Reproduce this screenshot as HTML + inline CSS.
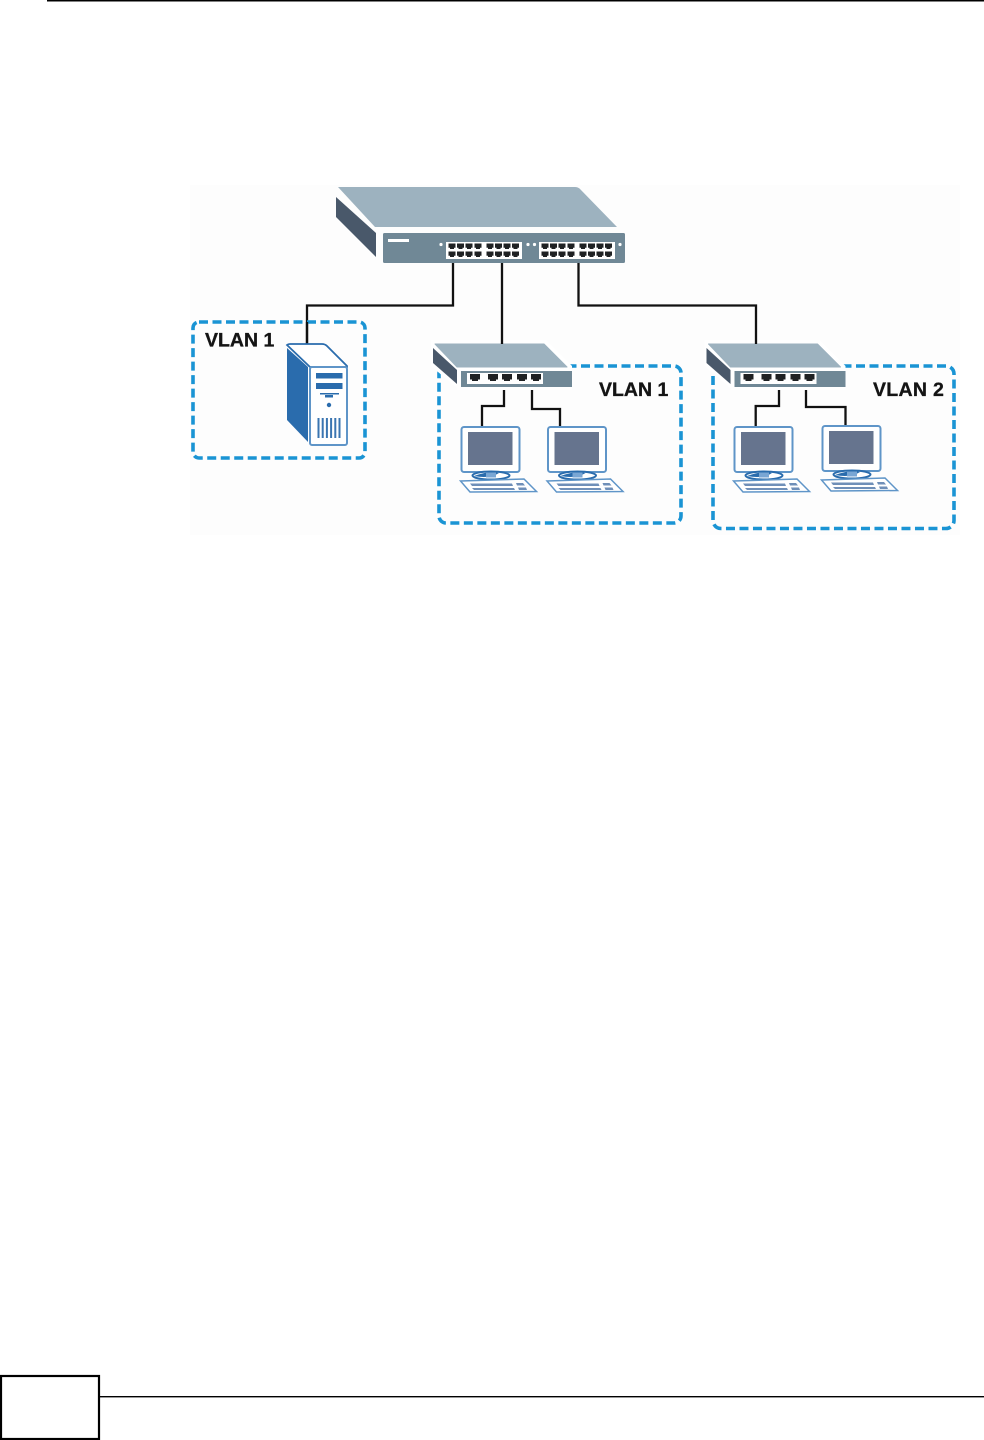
<!DOCTYPE html>
<html>
<head>
<meta charset="utf-8">
<style>
html,body{margin:0;padding:0;background:#fff;width:984px;height:1440px;overflow:hidden}
svg{display:block}
text{font-family:"Liberation Sans",sans-serif;font-weight:bold;font-size:19.5px;fill:#141414;stroke:#141414;stroke-width:.35px}
</style>
</head>
<body>
<svg width="984" height="1440" viewBox="0 0 984 1440" xmlns="http://www.w3.org/2000/svg">
<defs>
  <g id="port"><path d="M-5 -4h10v5.500h-2v1.500h-6v-1.500h-2z" fill="#1f2123"/></g>
  <g id="bigport"><path d="M-3.500 -3h7v4.200h-1.500v1.300h-4v-1.300h-1.500z" fill="#1f2123"/></g>
  <g id="block">
    <rect x="0" y="0" width="76" height="17" fill="#fff"/>
    <use href="#bigport" x="6" y="4.500"/><use href="#bigport" x="14.500" y="4.500"/><use href="#bigport" x="23" y="4.500"/><use href="#bigport" x="32" y="4.500"/>
    <use href="#bigport" x="44" y="4.500"/><use href="#bigport" x="52.500" y="4.500"/><use href="#bigport" x="61" y="4.500"/><use href="#bigport" x="69.500" y="4.500"/>
    <use href="#bigport" x="6" y="12.500"/><use href="#bigport" x="14.500" y="12.500"/><use href="#bigport" x="23" y="12.500"/><use href="#bigport" x="32" y="12.500"/>
    <use href="#bigport" x="44" y="12.500"/><use href="#bigport" x="52.500" y="12.500"/><use href="#bigport" x="61" y="12.500"/><use href="#bigport" x="69.500" y="12.500"/>
  </g>
  <g id="sw">
    <path d="M431 340H546L572 366V390H457V388L431 366Z" fill="#fff"/>
    <path d="M435 344H544L567 367H457Z" fill="#9db2bf" stroke="#9db2bf" stroke-width="1" stroke-linejoin="round"/>
    <path d="M433 348L457 370V384L433 363Z" fill="#49586a"/>
    <rect x="461" y="371" width="111" height="16" fill="#708896"/>
    <rect x="467" y="373" width="76" height="11" fill="#fff"/>
    <use href="#port" x="475" y="378"/><use href="#port" x="493" y="378"/><use href="#port" x="507" y="378"/><use href="#port" x="522" y="378"/><use href="#port" x="536" y="378"/>
  </g>
  <g id="pc">
    <rect x="461.500" y="427" width="58" height="45" rx="2.500" fill="#fff" stroke="#5f95c8" stroke-width="2"/>
    <rect x="468" y="432" width="44.500" height="33" fill="#66748e"/>
    <ellipse cx="491" cy="475.500" rx="18.500" ry="4" fill="#fff" stroke="#2a6cad" stroke-width="2"/>
    <path d="M474 476Q491 470 499 473Q490 479 474 476Z" fill="#2a6cad"/>
    <rect x="486" y="472.500" width="10" height="5" fill="#79a6d4"/>
    <path d="M460.500 481L524 479L536.500 491.500L470 492Z" fill="#fff" stroke="#5f95c8" stroke-width="1.500"/>
    <path d="M470 483.500H512L513 486H472Z M472 488H514L515 490H474Z M516 483H523L525 485.500H517Z M518 487.500H526L527 490H519Z" fill="#6f8fb8"/>
  </g>
</defs>

<rect x="47" y="0" width="937" height="1.500" fill="#000"/>
<rect x="190" y="185" width="770" height="350" fill="#fdfdfd"/>

<!-- connectors -->
<path d="M453 263V305.500H307V346" fill="none" stroke="#111" stroke-width="2.300"/>
<path d="M502 263V344" fill="none" stroke="#111" stroke-width="2.300"/>
<path d="M578.500 263V305.500H756V344" fill="none" stroke="#111" stroke-width="2.300"/>

<!-- main switch -->
<path d="M338 187H575Q578 187 580 189L617 227H375Z" fill="#9db2bf"/>
<path d="M336 197L376 233V257L336 217Z" fill="#49586a"/>
<rect x="383" y="233" width="242" height="30" rx="1.500" fill="#708896"/>
<rect x="388" y="239" width="21" height="3" fill="#fff"/>
<use href="#block" x="446" y="242"/>
<use href="#block" x="539" y="242"/>
<circle cx="441" cy="244.500" r="1.600" fill="#fff"/>
<circle cx="528" cy="244.500" r="1.600" fill="#fff"/>
<circle cx="534.500" cy="244.500" r="1.600" fill="#fff"/>
<circle cx="620" cy="244.500" r="1.600" fill="#fff"/>

<!-- dashed groups -->
<g fill="none" stroke="#1a94d4" stroke-width="3.600" stroke-dasharray="9 4.500">
  <rect x="193" y="322" width="172" height="136" rx="6"/>
  <rect x="439" y="366" width="242" height="157" rx="7"/>
  <rect x="713" y="366" width="241" height="162.500" rx="8"/>
</g>
<path d="M307 322V346" stroke="#111" stroke-width="2.300" fill="none"/>

<!-- server -->
<path d="M287 345Q288 344 290 344H322Q325 344 327 346L347 366V367H310Z" fill="#fff" stroke="#2a6cad" stroke-width="1.800"/>
<path d="M287 348L308 367V442L287 420Z" fill="#2a6cad"/>
<rect x="310" y="367" width="37" height="78" rx="2" fill="#fff" stroke="#5f95c8" stroke-width="2"/>
<rect x="316" y="373" width="26.500" height="5.500" fill="#2a6cad"/>
<rect x="316" y="383" width="26.500" height="6" fill="#2a6cad"/>
<rect x="320" y="393" width="19" height="1.500" fill="#2a6cad"/>
<rect x="325" y="395" width="8" height="2.500" fill="#2a6cad"/>
<circle cx="329" cy="405" r="2.200" fill="#2a6cad"/>
<g fill="#3a75b1">
  <rect x="317.500" y="418" width="2" height="20"/><rect x="321.700" y="418" width="2" height="20"/><rect x="325.900" y="418" width="2" height="20"/><rect x="330.100" y="418" width="2" height="20"/><rect x="334.300" y="418" width="2" height="20"/><rect x="338.500" y="418" width="2" height="20"/>
</g>

<!-- left sub-network -->
<path d="M504 387V406H482V427" fill="none" stroke="#111" stroke-width="2.300"/>
<path d="M532 387V409H560V427" fill="none" stroke="#111" stroke-width="2.300"/>
<use href="#sw"/>
<use href="#pc"/>
<use href="#pc" x="86.500"/>

<!-- right sub-network -->
<path d="M779 387V406H755.700V427" fill="none" stroke="#111" stroke-width="2.300"/>
<path d="M806 387V407H845.500V426" fill="none" stroke="#111" stroke-width="2.300"/>
<use href="#sw" x="273.500"/>
<use href="#pc" x="273"/>
<use href="#pc" x="361" y="-1"/>
<path d="M502 340V344M756 340V344" stroke="#111" stroke-width="2.300" fill="none"/>

<!-- labels -->
<text x="205" y="346.500">VLAN 1</text>
<text x="599" y="396">VLAN 1</text>
<text x="873" y="396" letter-spacing=".3">VLAN 2</text>

<!-- footer -->
<rect x="1" y="1376" width="98" height="63" fill="#fff" stroke="#000" stroke-width="2.200"/>
<rect x="100" y="1396" width="884" height="1.400" fill="#000"/>
</svg>
</body>
</html>
